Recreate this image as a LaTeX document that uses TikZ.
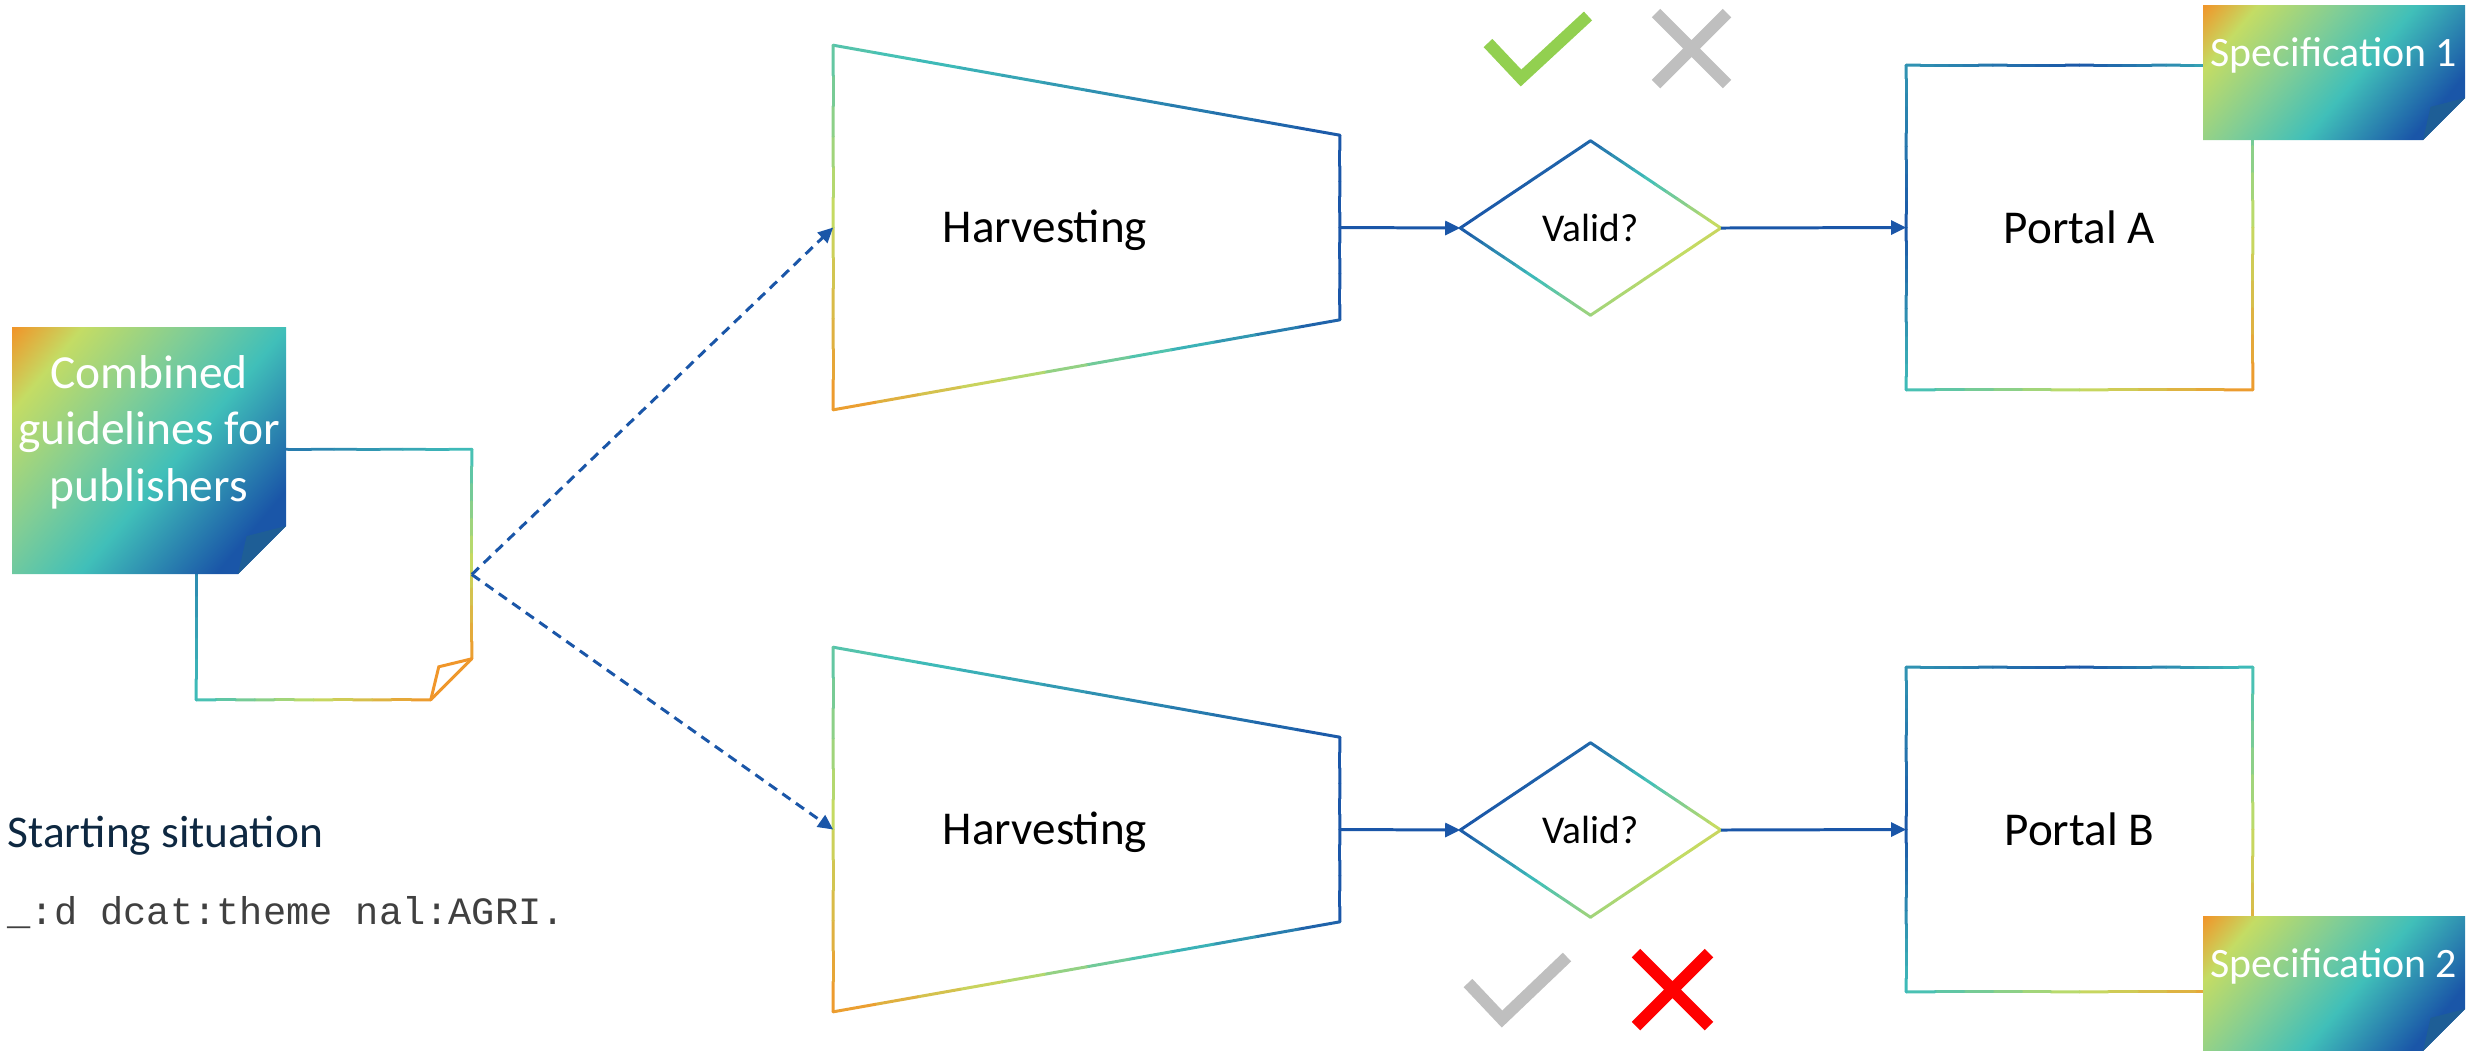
\documentclass[tikz,border=0pt]{standalone}
\usepackage{fontspec}
\setmainfont{Carlito}
\setmonofont{Liberation Mono}
\usetikzlibrary{arrows.meta,calc,shapes.geometric,positioning}

\definecolor{gblue}{RGB}{26,86,168}
\definecolor{gteal}{RGB}{64,191,185}
\definecolor{gmint}{RGB}{128,205,150}
\definecolor{glime}{RGB}{196,220,100}
\definecolor{gorange}{RGB}{240,150,42}
\definecolor{foldblue}{RGB}{30,94,150}
\definecolor{checkgreen}{RGB}{146,208,80}
\definecolor{markgray}{RGB}{191,191,191}
\definecolor{navytext}{RGB}{14,40,65}
\definecolor{codegray}{RGB}{64,64,64}

\pgfdeclarehorizontalshading{stickygrad}{100bp}{color(0bp)=(gorange); color(15bp)=(gorange); color(25bp)=(glime); color(41bp)=(gmint); color(55bp)=(gteal); color(75bp)=(gblue); color(100bp)=(gblue)}

% colour on the palette: t=0 orange, 1/3 lime, 2/3 teal, 1 blue
\newcommand\palcol[1]{%
  \pgfmathsetmacro\palt{3*(#1)}%
  \ifdim\palt pt<1pt
    \pgfmathsetmacro\palp{100*\palt}\colorlet{segcol}{glime!\palp!gorange}%
  \else\ifdim\palt pt<2pt
    \pgfmathsetmacro\palp{100*(\palt-1)}\colorlet{segcol}{gteal!\palp!glime}%
  \else
    \pgfmathsetmacro\palp{100*min(\palt-2,1)}\colorlet{segcol}{gblue!\palp!gteal}%
  \fi\fi}

% outline edge from #1 to #2, colour running from t=#3 to t=#4
\newcommand\gradedge[4]{%
  \foreach \k in {1,...,12}{%
    \pgfmathsetmacro\gfa{(\k-1)/12}%
    \pgfmathsetmacro\gfb{\k/12}%
    \pgfmathsetmacro\gft{#3+(#4-#3)*(\k-0.5)/12}%
    \palcol{\gft}%
    \draw[outline, segcol] ($(#1)!\gfa!(#2)$) -- ($(#1)!\gfb!(#2)$);
  }}

% gradient sticky note, corners (#1,#2) and (#3,#4), fold size #5
\newcommand\stickynote[5]{%
  \shade[shading=stickygrad, shading angle=-40] (#1,#2) -- (#3,#2) -- (#3,#4-#5) -- (#3-#5,#4) -- (#1,#4) -- cycle;
  \fill[foldblue] (#3,#4-#5) -- (#3-0.82*#5,#4-0.79*#5) -- (#3-#5,#4) -- cycle;}

\tikzset{
  outline/.style={line width=0.85pt, line cap=round},
  shapebox/.style={draw=none, inner sep=0pt},
  flow/.style={gblue, line width=0.85pt, -{Triangle[length=0.15cm,width=0.14cm]}},
  feed/.style={flow, dash pattern=on 2.8pt off 1.9pt},
  bigtext/.style={font=\fontsize{13.4}{16}\selectfont},
  validtext/.style={font=\fontsize{11.2}{13}\selectfont},
  notetext/.style={text=white, align=center, inner sep=0pt, font=\fontsize{13.5}{16.1}\selectfont},
  spectext/.style={text=white, inner sep=0pt, font=\fontsize{11.9}{14}\selectfont},
  tickline/.style={line width=0.12cm, line cap=butt, line join=miter}
}

\begin{document}
\begin{tikzpicture}[x=0.01cm, y=-0.01cm]
    \useasboundingbox (0,0) rectangle (2468,1050);

    % Guideline page
    \node[shapebox, minimum width=2.74cm, minimum height=2.49cm] (guide) at (334,574.5) {};
    \coordinate (ga) at (guide.north west);
    \coordinate (gb) at (guide.north east);
    \coordinate (gc) at ($(guide.south east)+(0,-41)$);
    \coordinate (gd) at ($(guide.south east)+(-41,0)$);
    \coordinate (ge) at (guide.south west);
    \coordinate (gf) at ($(guide.south east)+(-33,-33)$);
    \gradedge{ga}{gb}{1}{.67}
    \gradedge{gb}{gc}{.67}{.02}
    \gradedge{gc}{gd}{.02}{0}
    \gradedge{gd}{ge}{0}{.67}
    \gradedge{ge}{ga}{.67}{1}
    \draw[outline, gorange] (gc) -- (gf) -- (gd);

    % Two harvesting rows
    \foreach \r/\dy/\pl in {1/0/A, 2/602/B} {
        \node[shapebox, minimum width=5.05cm, minimum height=3.63cm] (harv\r) at (1086.5,227.5+\dy) {};
        \node[bigtext] (harvlabel\r) at (1045,230+\dy) {Harvesting};
        \node[shapebox, diamond, minimum width=2.59cm, minimum height=1.73cm, validtext] (valid\r) at (1590.5,228+\dy) {Valid?};
        \node[shapebox, minimum width=3.45cm, minimum height=3.23cm, bigtext] (portal\r) at (2079.5,227.5+\dy) {Portal \pl};

        % Trapezoid
        \coordinate (ha) at (harv\r.north west);
        \coordinate (hb) at ($(harv\r.north east)+(0,90)$);
        \coordinate (hc) at ($(harv\r.south east)+(0,-90)$);
        \coordinate (hd) at (harv\r.south west);
        \gradedge{ha}{hb}{.6}{1}
        \gradedge{hb}{hc}{1}{1}
        \gradedge{hc}{hd}{1}{0}
        \gradedge{hd}{ha}{0}{.6}

        % Diamond
        \gradedge{valid\r.west}{valid\r.north}{1}{.95}
        \gradedge{valid\r.north}{valid\r.east}{.95}{.3}
        \gradedge{valid\r.east}{valid\r.south}{.3}{.42}
        \gradedge{valid\r.south}{valid\r.west}{.42}{1}

        % Portal
        \gradedge{portal\r.north west}{portal\r.north}{.8}{1}
        \gradedge{portal\r.north}{portal\r.north east}{1}{.67}
        \gradedge{portal\r.north east}{portal\r.south east}{.67}{0}
        \gradedge{portal\r.south east}{portal\r.south west}{0}{.67}
        \gradedge{portal\r.south west}{portal\r.west}{.67}{1}
        \gradedge{portal\r.west}{portal\r.north west}{1}{.8}

        \draw[flow] (harv\r.east) -- (valid\r.west);
        \draw[flow] (valid\r.east) -- (portal\r.west);
    }

    \draw[feed] (guide.east) -- (harv1.west);
    \draw[feed] (guide.east) -- (harv2.west);

    % Sticky notes
    \stickynote{12}{327}{286}{574}{48}
    \stickynote{2203}{5}{2465}{140}{42}
    \stickynote{2203}{916}{2465}{1051}{42}
    \node[notetext] (guidetext) at (149,432) {Combined\\guidelines for\\publishers};
    \node[spectext] (spec1) at (2334,55) {Specification 1};
    \node[spectext] (spec2) at (2334,966) {Specification 2};

    % Validation marks
    \draw[tickline, checkgreen] (1488,43) -- (1521,78) -- (1588,16);
    \draw[tickline, markgray] (1656,13) -- (1727,84) (1656,84) -- (1727,13);
    \draw[tickline, markgray] (1468,983) -- (1502,1019) -- (1567,957);
    \draw[tickline, red] (1636,953) -- (1709,1026) (1636,1026) -- (1709,953);

    % Starting situation
    \node[anchor=base west, inner sep=0pt, text=navytext, font=\fontsize{12.9}{15}\selectfont] (startlabel) at (7,847) {Starting situation};
    \node[anchor=base west, inner sep=0pt, text=codegray, font=\ttfamily\fontsize{11}{13}\selectfont] (starttriple) at (7,924) {\_:d dcat:theme nal:AGRI.};
\end{tikzpicture}
\end{document}
